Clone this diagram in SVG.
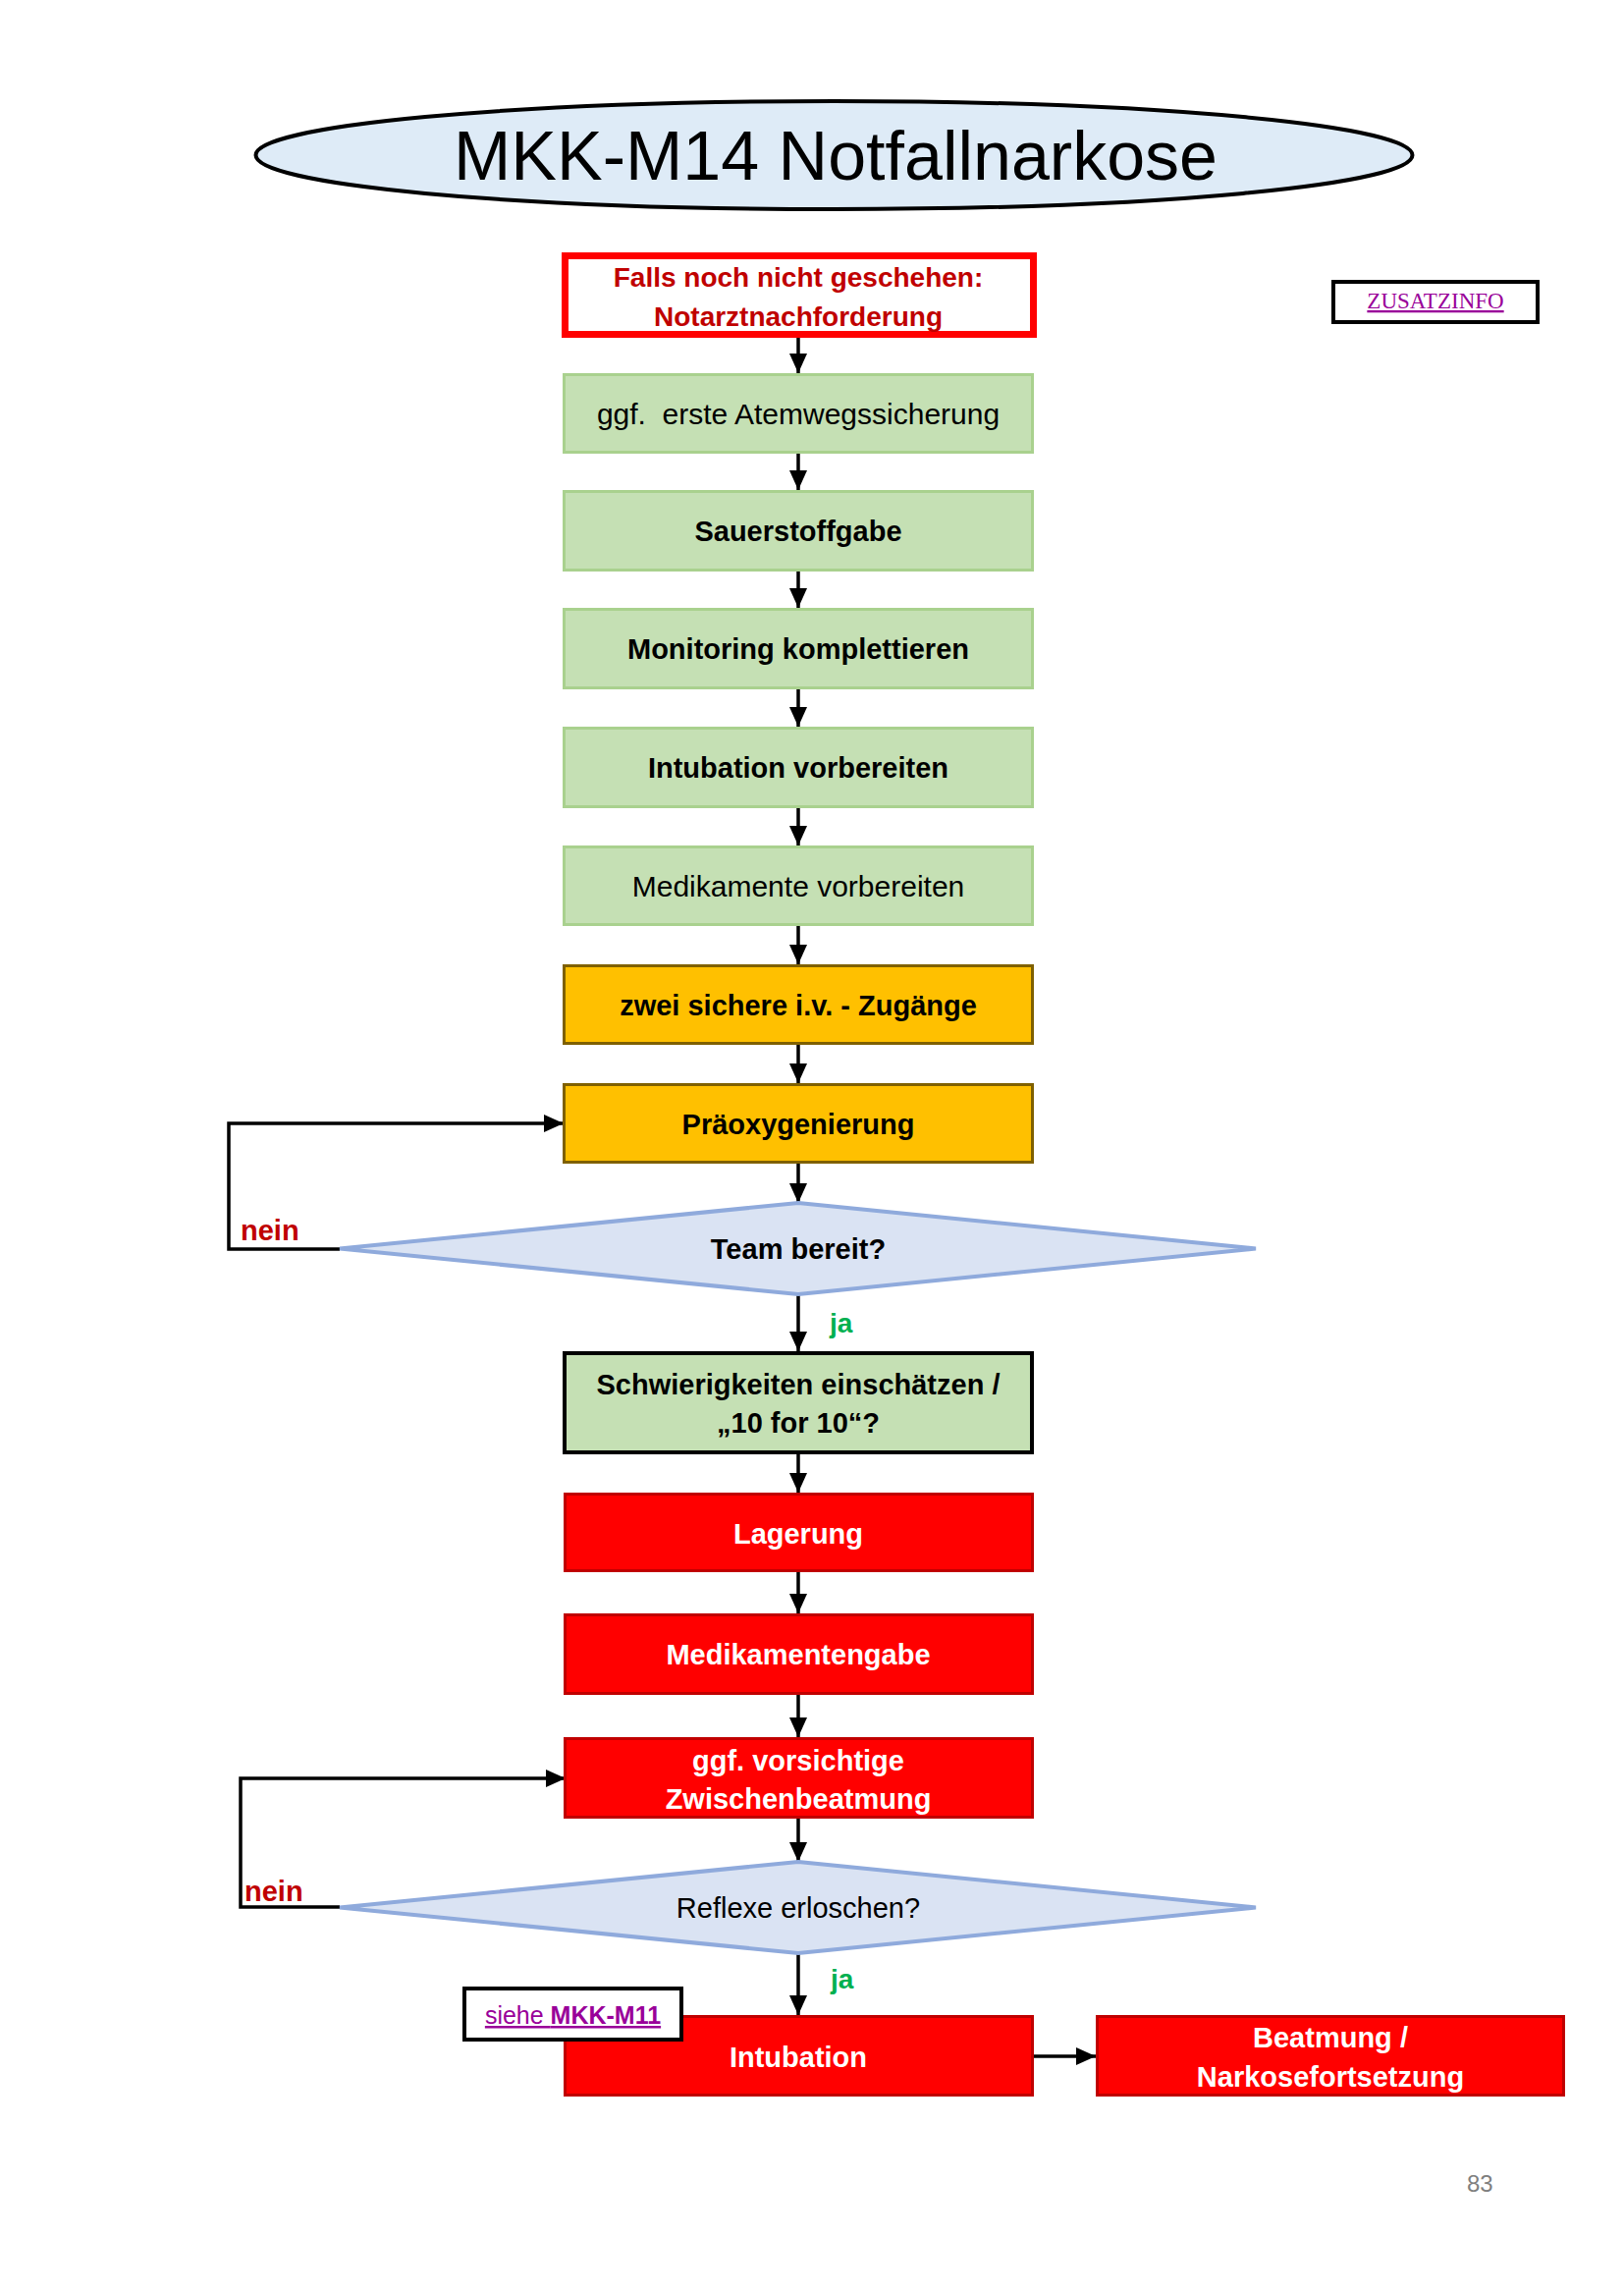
<svg xmlns="http://www.w3.org/2000/svg" width="1654" height="2331" viewBox="0 0 1654 2331">
<style>
text{font-family:"Liberation Sans",Arial,sans-serif;}
.b{font-weight:bold;font-size:29px;text-anchor:middle;}
.r{font-size:30px;text-anchor:middle;fill:#000;}
.w{fill:#FFFFFF;}
.k{fill:#000000;}
.green{fill:#C5E0B4;stroke:#A9D18E;stroke-width:3;}
.orange{fill:#FFC000;stroke:#7F6000;stroke-width:3;}
.red{fill:#FF0000;stroke:#C00000;stroke-width:3;}
.dia{fill:#DAE3F3;stroke:#8FAADC;stroke-width:4;}
.conn{fill:none;stroke:#000;stroke-width:3.5;}
.nein{font-size:29px;font-weight:bold;fill:#C00000;}
.ja{font-size:28px;font-weight:bold;fill:#00B050;}
.link{fill:#990099;text-decoration:underline;}
</style>
<defs>
<marker id="arr" markerUnits="userSpaceOnUse" markerWidth="20" markerHeight="18" refX="20" refY="9" orient="auto">
<path d="M0,0 L20,9 L0,18 Z" fill="#000"/>
</marker>
</defs>
<rect width="1654" height="2331" fill="#FFFFFF"/>

<g id="title">
<ellipse cx="849.5" cy="158" rx="589" ry="55" fill="#DEEBF7" stroke="#000" stroke-width="4"/>
<text x="851" y="183" font-size="70" text-anchor="middle" fill="#000">MKK-M14 Notfallnarkose</text>
</g>

<g id="zusatzinfo">
<rect x="1358" y="287" width="208" height="41" fill="#FFF" stroke="#000" stroke-width="4"/>
<text x="1462" y="314" font-size="23" text-anchor="middle" style="font-family:'Liberation Serif','Times New Roman',serif" class="link">ZUSATZINFO</text>
</g>

<g id="connectors">
<line class="conn" x1="813" y1="344" x2="813" y2="380" marker-end="url(#arr)"/>
<line class="conn" x1="813" y1="462" x2="813" y2="499" marker-end="url(#arr)"/>
<line class="conn" x1="813" y1="582" x2="813" y2="619" marker-end="url(#arr)"/>
<line class="conn" x1="813" y1="702" x2="813" y2="740" marker-end="url(#arr)"/>
<line class="conn" x1="813" y1="823" x2="813" y2="861" marker-end="url(#arr)"/>
<line class="conn" x1="813" y1="943" x2="813" y2="982" marker-end="url(#arr)"/>
<line class="conn" x1="813" y1="1064" x2="813" y2="1103" marker-end="url(#arr)"/>
<line class="conn" x1="813" y1="1185" x2="813" y2="1225" marker-end="url(#arr)"/>
<polyline class="conn" points="346,1272 233,1272 233,1144 574,1144" stroke-width="4" marker-end="url(#arr)"/>
<line class="conn" x1="813" y1="1318" x2="813" y2="1376" marker-end="url(#arr)"/>
<line class="conn" x1="813" y1="1481" x2="813" y2="1520" marker-end="url(#arr)"/>
<line class="conn" x1="813" y1="1601" x2="813" y2="1643" marker-end="url(#arr)"/>
<line class="conn" x1="813" y1="1726" x2="813" y2="1769" marker-end="url(#arr)"/>
<line class="conn" x1="813" y1="1852" x2="813" y2="1896" marker-end="url(#arr)"/>
<polyline class="conn" points="346,1942 245,1942 245,1811 576,1811" stroke-width="4" marker-end="url(#arr)"/>
<line class="conn" x1="813" y1="1989" x2="813" y2="2052" marker-end="url(#arr)"/>
<line class="conn" x1="1052" y1="2094" x2="1116" y2="2094" stroke-width="4" marker-end="url(#arr)"/>
<text x="245" y="1263" class="nein">nein</text>
<text x="249" y="1936" class="nein">nein</text>
<text x="845" y="1357" class="ja">ja</text>
<text x="846" y="2025" class="ja">ja</text>
</g>

<g id="n-notarzt">
<rect x="575.5" y="260.5" width="477" height="80" fill="#FFF" stroke="#FF0000" stroke-width="7"/>
<text x="813" y="292" class="b" style="font-size:28px" fill="#C00000">Falls noch nicht geschehen:</text>
<text x="813" y="332" class="b" style="font-size:28px" fill="#C00000">Notarztnachforderung</text>
</g>

<g id="n-atemweg">
<rect class="green" x="574.5" y="381.5" width="477" height="79"/>
<text x="813" y="431.5" class="r" style="white-space:pre">ggf.  erste Atemwegssicherung</text>
</g>

<g id="n-sauerstoff">
<rect class="green" x="574.5" y="500.5" width="477" height="80"/>
<text x="813" y="551" class="b k">Sauerstoffgabe</text>
</g>

<g id="n-monitoring">
<rect class="green" x="574.5" y="620.5" width="477" height="80"/>
<text x="813" y="671" class="b k">Monitoring komplettieren</text>
</g>

<g id="n-intubvorb">
<rect class="green" x="574.5" y="741.5" width="477" height="80"/>
<text x="813" y="792" class="b k">Intubation vorbereiten</text>
</g>

<g id="n-medvorb">
<rect class="green" x="574.5" y="862.5" width="477" height="79"/>
<text x="813" y="913" class="r">Medikamente vorbereiten</text>
</g>

<g id="n-zugaenge">
<rect class="orange" x="574.5" y="983.5" width="477" height="79"/>
<text x="813" y="1033.5" class="b k">zwei sichere i.v. - Zugänge</text>
</g>

<g id="n-praeox">
<rect class="orange" x="574.5" y="1104.5" width="477" height="79"/>
<text x="813" y="1154.5" class="b k">Präoxygenierung</text>
</g>

<g id="n-team">
<polygon class="dia" points="813,1225 1279,1271.5 813,1318 346,1271.5"/>
<text x="813" y="1282" class="b k">Team bereit?</text>
</g>

<g id="n-schwierig">
<rect x="575" y="1378" width="476" height="101" fill="#C5E0B4" stroke="#000" stroke-width="4"/>
<text x="813" y="1420" class="b k">Schwierigkeiten einschätzen /</text>
<text x="813" y="1459" class="b k">„10 for 10“?</text>
</g>

<g id="n-lagerung">
<rect class="red" x="575.5" y="1521.5" width="476" height="78"/>
<text x="813" y="1571.5" class="b w">Lagerung</text>
</g>

<g id="n-medgabe">
<rect class="red" x="575.5" y="1644.5" width="476" height="80"/>
<text x="813" y="1695" class="b w">Medikamentengabe</text>
</g>

<g id="n-zwischen">
<rect class="red" x="575.5" y="1770.5" width="476" height="80"/>
<text x="813" y="1803" class="b w">ggf. vorsichtige</text>
<text x="813" y="1842" class="b w">Zwischenbeatmung</text>
</g>

<g id="n-reflexe">
<polygon class="dia" points="813,1896 1279,1942.5 813,1989 346,1942.5"/>
<text x="813" y="1953" font-size="29" text-anchor="middle" fill="#000">Reflexe erloschen?</text>
</g>

<g id="n-intubation">
<rect class="red" x="575.5" y="2053.5" width="476" height="80"/>
<text x="813" y="2105" class="b w">Intubation</text>
</g>

<g id="n-beatmung">
<rect class="red" x="1117.5" y="2053.5" width="475" height="80"/>
<text x="1355" y="2085" class="b w">Beatmung /</text>
<text x="1355" y="2125" class="b w">Narkosefortsetzung</text>
</g>

<g id="n-siehe">
<rect x="473" y="2025" width="221" height="52" fill="#FFF" stroke="#000" stroke-width="4"/>
<text x="583.5" y="2061" font-size="25" text-anchor="middle" class="link">siehe <tspan font-weight="bold">MKK-M11</tspan></text>
</g>

<text x="1494" y="2232" font-size="24" fill="#7F7F7F">83</text>
</svg>
